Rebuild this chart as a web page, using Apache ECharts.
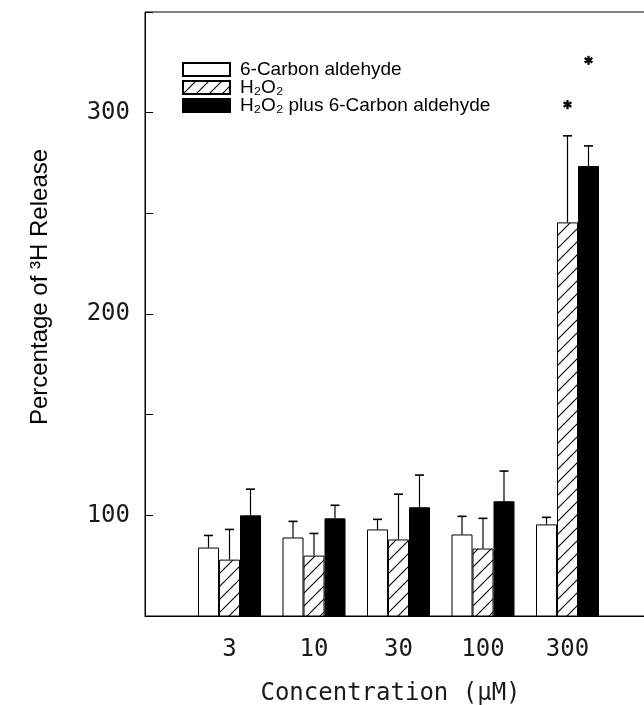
<!DOCTYPE html>
<html>
<head>
<meta charset="utf-8">
<script src="https://cdn.jsdelivr.net/npm/echarts@6/dist/echarts.min.js"></script>
<style>
html,body{margin:0;padding:0;background:#fff;}
#chart{width:644px;height:705px;}
</style>
</head>
<body>
<div id="chart"></div>
<script>
// ---- data ----
const categories = ['', '3', '10', '30', '100', '300', ''];
const seriesNames = ['6-Carbon aldehyde', 'H₂O₂', 'H₂O₂ plus 6-Carbon aldehyde'];
const aldehyde    = [null, 84, 89, 93, 90.5, 95.5, null];
const aldehydeErr = [null, 6, 8, 5, 9, 3.5, null];
const h2o2        = [null, 78, 80, 88, 83.5, 245.5, null];
const h2o2Err     = [null, 15, 11, 22.5, 15, 43, null];
const combo       = [null, 100, 98.5, 104, 107, 273.5, null];
const comboErr    = [null, 13, 6.5, 16, 15, 10, null];
const starH2o2    = [[5, 304]];
const starCombo   = [[5, 326]];
const yTickLabels = [100, 200, 300];

// hatch pattern
function makeHatch() {
  const s = 13;
  const c = document.createElement('canvas');
  c.width = s; c.height = s;
  const ctx = c.getContext('2d');
  ctx.fillStyle = '#fff';
  ctx.fillRect(0, 0, s, s);
  ctx.strokeStyle = '#000';
  ctx.lineWidth = 1.1;
  ctx.beginPath();
  ctx.moveTo(-1, s + 1); ctx.lineTo(s + 1, -1);
  ctx.moveTo(-1, 1); ctx.lineTo(1, -1);
  ctx.moveTo(s - 1, s + 1); ctx.lineTo(s + 1, s - 1);
  ctx.stroke();
  return c;
}
const hatch = { image: makeHatch(), repeat: 'repeat' };

const BAR_W = 21;
function errSeries(vals, errs, offset) {
  const data = [];
  vals.forEach((v, i) => { if (v != null) data.push([i, v, errs[i]]); });
  return {
    type: 'custom',
    z: 5,
    silent: true,
    data: data,
    renderItem: function (params, api) {
      const base = api.coord([api.value(0), api.value(1)]);
      const top = api.coord([api.value(0), api.value(1) + api.value(2)]);
      const x = base[0] + offset;
      return {
        type: 'group',
        children: [
          { type: 'line', shape: { x1: x, y1: base[1], x2: x, y2: top[1] }, style: { stroke: '#000', lineWidth: 1.2 } },
          { type: 'line', shape: { x1: x - 4.5, y1: top[1], x2: x + 4.5, y2: top[1] }, style: { stroke: '#000', lineWidth: 1.6 } }
        ]
      };
    }
  };
}
function starSeries(pts, offset) {
  return {
    type: 'custom',
    z: 6,
    silent: true,
    data: pts,
    renderItem: function (params, api) {
      const p = api.coord([api.value(0), api.value(1)]);
      const x = p[0] + offset, y = p[1];
      const r = 4.5;
      const kids = [];
      for (let k = 0; k < 3; k++) {
        const a = Math.PI / 2 + k * Math.PI / 3;
        kids.push({ type: 'line', shape: { x1: x - r * Math.cos(a), y1: y - r * Math.sin(a), x2: x + r * Math.cos(a), y2: y + r * Math.sin(a) }, style: { stroke: '#000', lineWidth: 2.3 } });
      }
      return { type: 'group', children: kids };
    }
  };
}

const chart = echarts.init(document.getElementById('chart'), null, { renderer: 'canvas' });
const monoFont = "'DejaVu Sans Mono', monospace";
chart.setOption({
  animation: false,
  backgroundColor: '#fff',
  grid: { left: 145, width: 507, top: 12, bottom: 89, show: true, borderColor: '#000', borderWidth: 1,
          containLabel: false, outerBoundsMode: 'none' },
  legend: {
    data: seriesNames,
    orient: 'vertical',
    left: 177, top: 55,
    itemWidth: 47, itemHeight: 13, itemGap: -1,
    icon: 'rect',
    textStyle: { fontFamily: "'Liberation Sans', Arial, sans-serif", fontSize: 19, color: '#000', padding: [0, 0, 0, 5] }
  },
  xAxis: {
    type: 'category',
    data: categories,
    boundaryGap: false,
    axisLine: { lineStyle: { color: '#000', width: 1 } },
    axisTick: { show: false },
    splitLine: { show: false },
    axisLabel: { fontFamily: monoFont, fontSize: 24, color: '#1a1a1a', margin: 22 },
    name: 'Concentration (μM)',
    nameLocation: 'middle',
    nameGap: 66,
    nameTextStyle: { fontFamily: monoFont, fontSize: 24, color: '#1a1a1a', padding: [0, 16, 0, 0] }
  },
  yAxis: {
    type: 'value',
    min: 50, max: 350, interval: 50,
    axisLine: { show: true, lineStyle: { color: '#000', width: 1 } },
    axisTick: { show: true, inside: true, length: 8, lineStyle: { color: '#000' } },
    splitLine: { show: false },
    axisLabel: {
      fontFamily: monoFont, fontSize: 24, color: '#1a1a1a', margin: 15,
      formatter: function (v) { return yTickLabels.indexOf(v) >= 0 ? String(v) : ''; }
    }
  },
  graphic: [{
    type: 'text',
    x: 40, y: 287,
    rotation: Math.PI / 2,
    style: {
      text: 'Percentage of ³H Release',
      font: "24px 'Liberation Sans', Arial, sans-serif",
      fill: '#000',
      align: 'center',
      verticalAlign: 'middle'
    }
  }],
  series: [
    { name: seriesNames[0], type: 'bar', data: aldehyde, barWidth: BAR_W, barGap: '0%',
      itemStyle: { color: '#fff', borderColor: '#000', borderWidth: 1 } },
    { name: seriesNames[1], type: 'bar', data: h2o2, barWidth: BAR_W, barGap: '0%',
      itemStyle: { color: hatch, borderColor: '#000', borderWidth: 1 } },
    { name: seriesNames[2], type: 'bar', data: combo, barWidth: BAR_W, barGap: '0%',
      itemStyle: { color: '#000', borderColor: '#000', borderWidth: 1 } },
    errSeries(aldehyde, aldehydeErr, -BAR_W),
    errSeries(h2o2, h2o2Err, 0),
    errSeries(combo, comboErr, BAR_W),
    starSeries(starH2o2, 0),
    starSeries(starCombo, BAR_W)
  ]
});
</script>
</body>
</html>
